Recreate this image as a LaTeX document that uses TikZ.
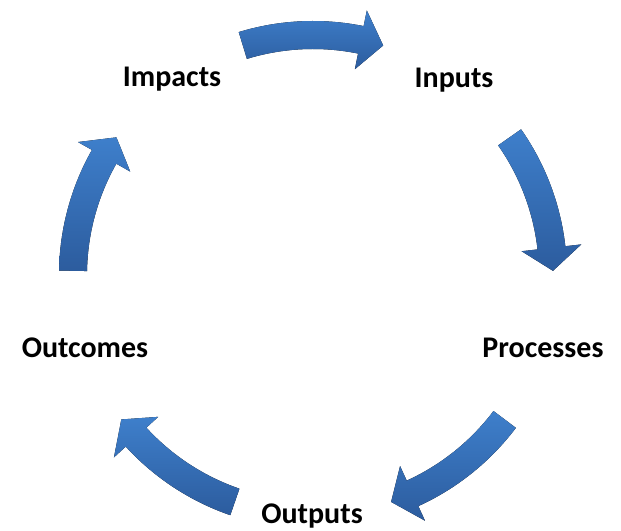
\documentclass[tikz,border=0pt]{standalone}
\usepackage{fontspec}
\setmainfont{Carlito}
\usetikzlibrary{positioning,calc}
\definecolor{cyclight}{RGB}{62,127,203}
\definecolor{cycdark}{RGB}{44,92,158}

\begin{document}
\begin{tikzpicture}[
  x=0.75pt, y=0.75pt,
  font=\fontsize{22.5}{27}\selectfont\bfseries,
  stage/.style={anchor=base, inner sep=0pt, text=black},
  cycarrow/.style={top color=cyclight, bottom color=cycdark, draw=none}
]
\useasboundingbox (0,0) rectangle (621,531);
\coordinate (hub) at (313,256);

\node[stage] (inputs) at (454,443) {Inputs};
\node[stage] (processes) at (543,173) {Processes};
\node[stage] (outputs) at (312,7) {Outputs};
\node[stage] (outcomes) at (85,173) {Outcomes};
\node[stage] (impacts) at (172,444) {Impacts};

% curved block arrows, running clockwise
\foreach \mid in {90,18,-54,-126,162} {
  \pgfmathsetmacro{\tail}{\mid+17}
  \pgfmathsetmacro{\neck}{\mid-11.5}
  \pgfmathsetmacro{\tip}{\mid-17}
  \fill[cycarrow, shift={(hub)}]
    (\tail:254) arc[start angle=\tail, end angle=\neck, radius=254]
    -- (\neck:270) -- (\tip:240) -- (\neck:210)
    -- (\neck:226) arc[start angle=\neck, end angle=\tail, radius=226] -- cycle;
}
\end{tikzpicture}
\end{document}
